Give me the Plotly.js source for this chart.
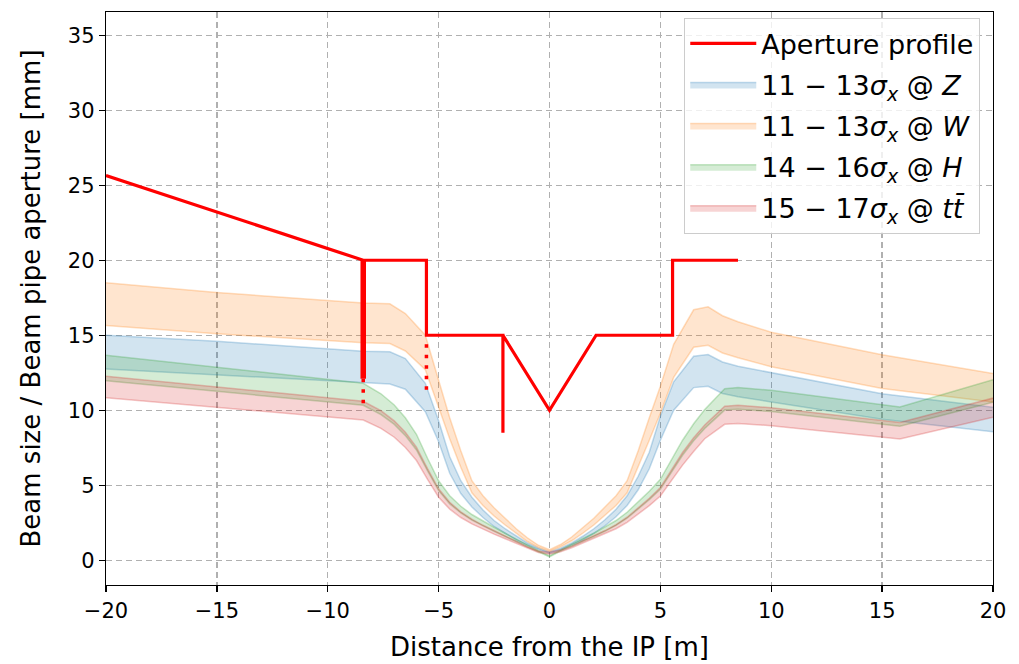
<!DOCTYPE html>
<html>
<head>
<meta charset="utf-8">
<script src="https://cdn.plot.ly/plotly-3.0.1.min.js"></script>
<style>
  html, body { margin: 0; padding: 0; background: #ffffff; }
  #chart { width: 1019px; height: 664px; }
</style>
</head>
<body>
<div id="chart"></div>
<script>
// ---------------- data ----------------
// Aperture profile (m, mm)
const apX = [-20, -8.4, -5.55, -5.55, -2.1, -2.1, -2.1, 0, 2.1, 5.55, 5.55, 8.5];
const apY = [25.65, 20, 20, 15, 15, 8.5, 15, 10, 15, 15, 20, 20];
// thick solid vertical at -8.4 m
const apThickX = [-8.4, -8.4];
const apThickY = [20, 12.1];
// dotted continuations
const dot1X = [-8.4, -8.4];
const dot1Y = [12.1, 10.4];
const dot2X = [-5.55, -5.55];
const dot2Y = [14.4, 11.2];

// Z and W share the same optics sampling
const xZW = [-20, -15, -8.4, -7.2, -6.5, -5.6, -5, -4.5, -4, -3.5, -3, -2.5, -2, -1.5, -1, -0.5, 0,
             0.5, 1, 1.5, 2, 2.5, 3, 3.5, 4, 4.5, 5, 5.6, 6.5, 7.15, 7.8, 8.5, 10, 15, 20];
const zLo = [12.75, 12.35, 11.85, 11.75, 11.4, 9.9, 7.9, 5.8, 4.45, 3.55, 2.85, 2.25, 1.8, 1.35, 1.0, 0.7, 0.45,
             0.7, 1.0, 1.35, 1.8, 2.3, 2.9, 3.65, 4.7, 6.1, 8.0, 10.0, 11.51, 11.6, 11.12, 10.9, 10.55, 9.4, 8.56];
const zHi = [15.0, 14.6, 13.93, 13.9, 13.45, 11.8, 9.3, 6.9, 5.3, 4.2, 3.35, 2.65, 2.1, 1.6, 1.15, 0.8, 0.55,
             0.8, 1.15, 1.6, 2.1, 2.7, 3.4, 4.3, 5.6, 7.2, 9.6, 11.9, 13.6, 13.71, 13.22, 12.93, 12.5, 11.1, 10.2];
const wLo = [15.65, 15.1, 14.5, 14.45, 13.95, 12.7, 10.2, 8.1, 6.2, 4.5, 3.65, 2.95, 2.35, 1.8, 1.25, 0.85, 0.6,
             0.9, 1.3, 1.8, 2.35, 3.0, 3.65, 4.5, 6.2, 8.0, 9.8, 12.2, 14.2, 14.33, 13.82, 13.5, 12.9, 11.45, 10.55];
const wHi = [18.5, 17.85, 17.15, 17.1, 16.45, 15.0, 12.0, 9.5, 7.3, 5.3, 4.3, 3.5, 2.8, 2.1, 1.5, 1.0, 0.7,
             1.05, 1.55, 2.15, 2.8, 3.55, 4.3, 5.3, 7.3, 9.5, 11.6, 14.4, 16.7, 16.9, 16.3, 15.9, 15.2, 13.7, 12.45];

// H and ttbar share the same optics sampling
const xHT = [-20, -15, -8.4, -7.6, -7, -6.5, -6, -5.5, -5, -4.5, -4, -3.5, -3, -2.5, -2, -1.5, -1, -0.5, 0,
             0.5, 1, 1.5, 2, 2.5, 3, 3.5, 4, 4.5, 5, 5.5, 6, 6.5, 7, 7.9, 8.5, 10, 15, 15.8, 20];
const hLo = [11.96, 11.24, 10.33, 9.71, 9.06, 8.31, 7.35, 5.95, 4.64, 3.76, 3.15, 2.67, 2.28, 1.93, 1.58, 1.23, 0.88, 0.57, 0.22,
             0.61, 0.92, 1.27, 1.58, 1.93, 2.32, 2.8, 3.41, 4.03, 4.73, 5.86, 7.0, 7.96, 8.79, 10.01, 10.07, 9.91, 9.04, 8.94, 10.54];
const hHi = [13.67, 12.85, 11.8, 11.1, 10.35, 9.5, 8.4, 6.8, 5.3, 4.3, 3.6, 3.05, 2.6, 2.2, 1.8, 1.4, 1.0, 0.65, 0.3,
             0.7, 1.05, 1.45, 1.8, 2.2, 2.65, 3.2, 3.9, 4.6, 5.4, 6.7, 8.0, 9.1, 10.05, 11.44, 11.51, 11.33, 10.33, 10.22, 12.04];
const tLo = [10.83, 10.18, 9.35, 8.79, 8.2, 7.52, 6.65, 5.39, 4.2, 3.41, 2.85, 2.42, 2.06, 1.74, 1.43, 1.11, 0.79, 0.52, 0.42,
             0.56, 0.83, 1.15, 1.43, 1.74, 2.1, 2.53, 3.09, 3.64, 4.28, 5.31, 6.34, 7.25, 8.1, 9.06, 9.12, 8.97, 8.18, 8.09, 9.54];
const tHi = [12.27, 11.54, 10.6, 9.97, 9.29, 8.53, 7.54, 6.11, 4.76, 3.86, 3.23, 2.74, 2.33, 1.98, 1.62, 1.26, 0.9, 0.62, 0.55,
             0.68, 0.94, 1.3, 1.62, 1.98, 2.38, 2.87, 3.5, 4.13, 4.85, 6.02, 7.18, 8.17, 9.02, 10.27, 10.34, 10.17, 9.28, 9.18, 10.81];

const xTicks = [-20, -15, -10, -5, 0, 5, 10, 15, 20];
const yTicks = [0, 5, 10, 15, 20, 25, 30, 35];

const bandNames = [
  "11 \u2212 13<i>\u03c3</i><sub><i>x</i></sub> @ <i>Z</i>",
  "11 \u2212 13<i>\u03c3</i><sub><i>x</i></sub> @ <i>W</i>",
  "14 \u2212 16<i>\u03c3</i><sub><i>x</i></sub> @ <i>H</i>",
  "15 \u2212 17<i>\u03c3</i><sub><i>x</i></sub> @ <i>t</i><i>t\u0304</i>"
];
const apName = "Aperture profile";

// ---------------- styles ----------------
const bandRGB = ["31,119,180", "255,127,14", "44,160,44", "214,39,40"];
const FONT = "DejaVu Sans, Verdana, sans-serif";

function band(x, lo, hi, idx) {
  const c = bandRGB[idx];
  return [
    { x: x, y: lo, type: "scatter", mode: "lines", showlegend: false, hoverinfo: "skip",
      legendgroup: "g" + idx,
      line: { color: "rgba(" + c + ",0.26)", width: 1.5 } },
    { x: x, y: hi, type: "scatter", mode: "lines", fill: "tonexty", name: bandNames[idx],
      legendgroup: "g" + idx, legendrank: idx + 2,
      fillcolor: "rgba(" + c + ",0.2)",
      line: { color: "rgba(" + c + ",0.26)", width: 1.5 } }
  ];
}

const traces = [].concat(
  band(xZW, zLo, zHi, 0),
  band(xZW, wLo, wHi, 1),
  band(xHT, hLo, hHi, 2),
  band(xHT, tLo, tHi, 3),
  [
    { x: apX, y: apY, type: "scatter", mode: "lines", name: apName, legendgroup: "ap", legendrank: 1,
      line: { color: "#ff0000", width: 3.2 } },
    { x: apThickX, y: apThickY, type: "scatter", mode: "lines", showlegend: false, legendgroup: "ap",
      line: { color: "#ff0000", width: 5.5 } },
    { x: dot1X, y: dot1Y, type: "scatter", mode: "lines", showlegend: false, legendgroup: "ap",
      line: { color: "#ff0000", width: 3.5, dash: "3.5px,7px" } },
    { x: dot2X, y: dot2Y, type: "scatter", mode: "lines", showlegend: false, legendgroup: "ap",
      line: { color: "#ff0000", width: 3.5, dash: "3.5px,7px" } }
  ]
);

const axisCommon = {
  showline: true, mirror: true, linecolor: "#000000", linewidth: 1.3,
  ticks: "outside", ticklen: 6, tickwidth: 1.3, tickcolor: "#000000",
  showgrid: true, gridcolor: "#b0b0b0", gridwidth: 1.3, griddash: "6px,4px",
  zeroline: false,
  tickfont: { family: FONT, size: 21, color: "#000000" }
};

const layout = {
  width: 1019, height: 664,
  margin: { l: 106, r: 26, t: 12, b: 79 },
  paper_bgcolor: "#ffffff", plot_bgcolor: "#ffffff",
  font: { family: FONT, color: "#000000" },
  xaxis: Object.assign({}, axisCommon, {
    range: [-20, 20], tickvals: xTicks,
    title: { text: "Distance from the IP [m]", font: { family: FONT, size: 26 }, standoff: 16 }
  }),
  yaxis: Object.assign({}, axisCommon, {
    range: [-1.65, 36.55], tickvals: yTicks,
    title: { text: "Beam size / Beam pipe aperture [mm]", font: { family: FONT, size: 26 }, standoff: 19 }
  }),
  legend: {
    x: 0.9853, y: 0.9895, xanchor: "right", yanchor: "top",
    bgcolor: "rgba(255,255,255,0.8)", bordercolor: "#cccccc", borderwidth: 1.3,
    font: { family: FONT, size: 27, color: "#000000" },
    traceorder: "grouped", tracegroupgap: 3, itemwidth: 66
  },
  showlegend: true
};

Plotly.newPlot("chart", traces, layout, { staticPlot: true, displayModeBar: false });
</script>
</body>
</html>
